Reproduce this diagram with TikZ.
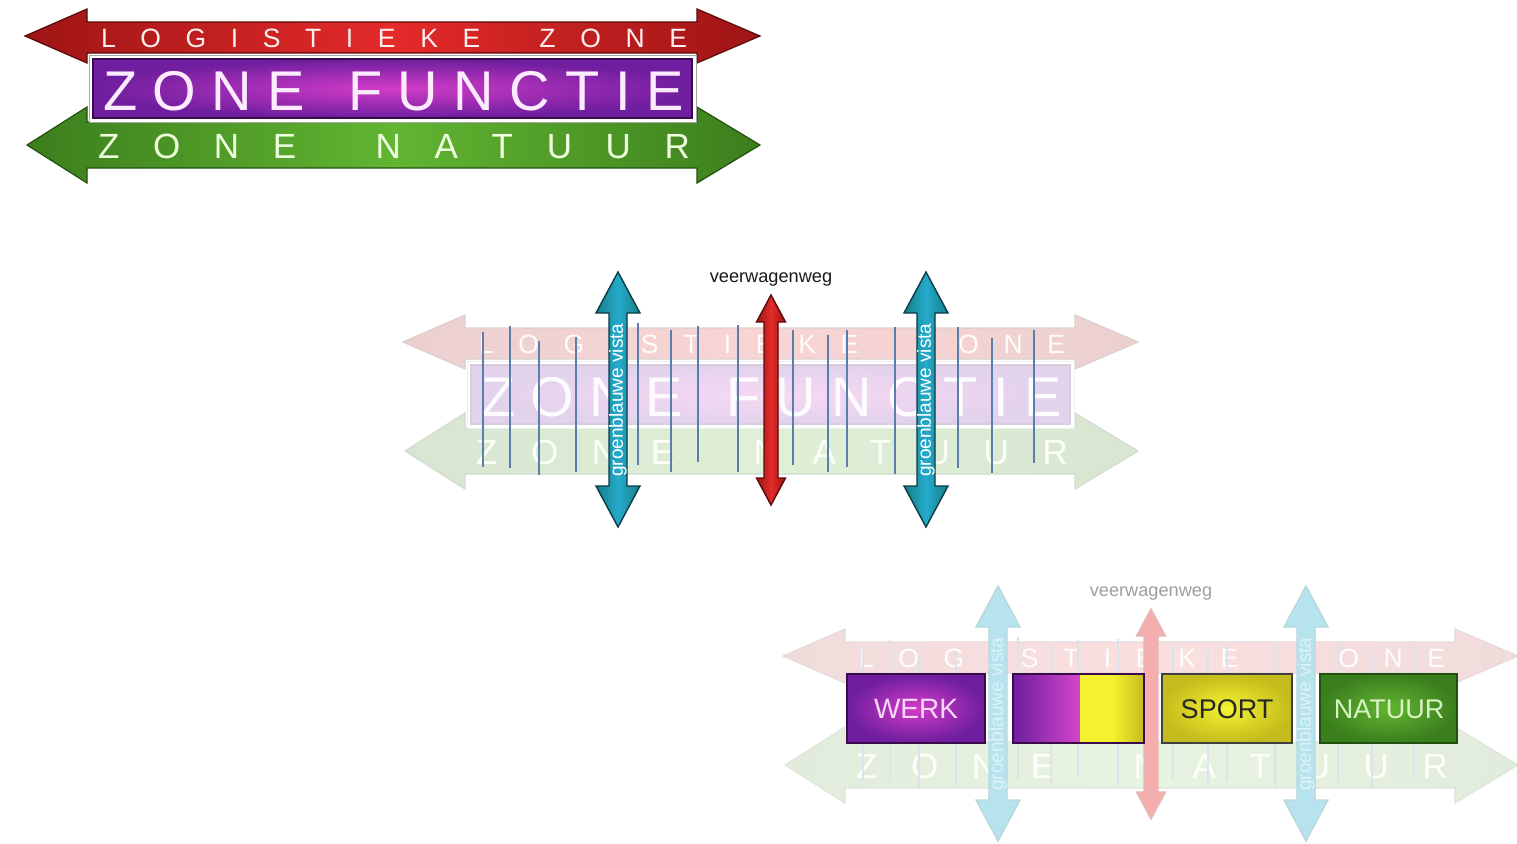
\documentclass[tikz,border=0pt]{standalone}
\usepackage{fontspec}
\setmainfont{Liberation Sans}
\definecolor{rDark}{HTML}{9E1515}
\definecolor{rLight}{HTML}{E42A2A}
\definecolor{rLine}{HTML}{5A0A0A}
\definecolor{gDark}{HTML}{3B7E1D}
\definecolor{gLight}{HTML}{62B532}
\definecolor{gLine}{HTML}{24500F}
\definecolor{pOut}{HTML}{6E1E9E}
\definecolor{pIn}{HTML}{D23CC8}
\definecolor{pLine}{HTML}{3A0A4A}
\definecolor{tDark}{HTML}{177E86}
\definecolor{tLight}{HTML}{25AACB}
\definecolor{tLine}{HTML}{0B3B45}
\definecolor{yIn}{HTML}{F4F230}
\definecolor{yOut}{HTML}{C4BC1C}
\definecolor{vline}{HTML}{5A7FAA}
\definecolor{txR}{HTML}{FFEEEE}
\definecolor{txP}{HTML}{FCEAFF}
\definecolor{txG}{HTML}{EEFFDD}
\newcommand\fs[1]{\fontsize{#1pt}{#1pt}\selectfont}
\newif\ifmidrow
\midrowtrue
% banner: #1 = strength in percent, #2 = name prefix
\newcommand\drawbanner[2]{%
 \colorlet{bRD}{rDark!#1!white}\colorlet{bRL}{rLight!#1!white}\colorlet{bRO}{rLine!#1!white}%
 \colorlet{bGD}{gDark!#1!white}\colorlet{bGL}{gLight!#1!white}\colorlet{bGO}{gLine!#1!white}%
 \colorlet{bPI}{pIn!#1!white}\colorlet{bPO}{pOut!#1!white}\colorlet{bPL}{pLine!#1!white}%
 \colorlet{bWO}{black!#1!white}%
 \colorlet{bT1}{txR!#1!white}\colorlet{bT2}{txP!#1!white}\colorlet{bT3}{txG!#1!white}%
 \path[draw=bRO, line width=0.6pt, left color=bRD, right color=bRD, middle color=bRL]
   (25,36) -- (87,9) -- (87,22) -- (697,22) -- (697,9) -- (760,36) -- (697,63) -- (697,53)
   -- (87,53) -- (87,63) -- cycle;
 \path[draw=bGO, line width=0.6pt, left color=bGD, right color=bGD, middle color=bGL]
   (27,145) -- (87,107) -- (87,122) -- (697,122) -- (697,107) -- (760,145) -- (697,183)
   -- (697,168) -- (87,168) -- (87,183) -- cycle;
 \node[anchor=base, inner sep=0pt, text=bT1, font=\fs{13.25}] (#2l1) at (394,47)
   {\makebox[293pt][s]{L\hfill O\hfill G\hfill I\hfill S\hfill T\hfill I\hfill E\hfill K\hfill E\hfill\hspace{5pt}\hfill Z\hfill O\hfill N\hfill E}};
 \node[anchor=base, inner sep=0pt, text=bT3, font=\fs{17.5}] (#2l3) at (394,158)
   {\makebox[296pt][s]{Z\hfill O\hfill N\hfill E\hfill\hspace{6pt}\hfill N\hfill A\hfill T\hfill U\hfill U\hfill R}};
 \ifmidrow
 \path[draw=bWO!35, line width=0.5pt, fill=white] (89,55) rectangle (696,122);
 \path[draw=bPL, line width=0.6pt, inner color=bPI, outer color=bPO] (93,59) rectangle (692,118);
 \node[anchor=base, inner sep=0pt, text=bT2, font=\fs{28}] (#2l2) at (393.5,110)
   {\makebox[290.5pt][s]{Z\hfill O\hfill N\hfill E\hfill\hspace{6pt}\hfill F\hfill U\hfill N\hfill C\hfill T\hfill I\hfill E}};
 \fi
}
% vertical double arrow: x, ytop, ybot, head length, head half width, shaft half width, style
\newcommand\vdarrow[7]{%
 \path[#7] (#1,#2) -- ({#1+#5},{#2+#4}) -- ({#1+#6},{#2+#4}) -- ({#1+#6},{#3-#4})
   -- ({#1+#5},{#3-#4}) -- (#1,#3) -- ({#1-#5},{#3-#4}) -- ({#1-#6},{#3-#4})
   -- ({#1-#6},{#2+#4}) -- ({#1-#5},{#2+#4}) -- cycle;}
% stage: #1 banner strength, #2 prefix, #3 line colour, #4 teal style, #5 red style, #6 label colour, #7 vista text colour
\newcommand\stage[7]{%
 \begin{scope}[shift={(378,306)}]\drawbanner{#1}{#2}\end{scope}
 \foreach \xx/\ya/\yb in {483/332/467, 510/326/468, 539/341/475, 576/337/472, 638/323/465,
   671/330/472, 698/326/462, 738/325/472, 793/330/465, 828/335/472, 847/330/467,
   895/327/474, 958/327/468, 992/338/473, 1034/330/463}
   \draw[line width=1pt, #3] (\xx,\ya) -- (\xx,\yb);
 \vdarrow{618}{272}{527}{41}{22}{9}{#4}
 \vdarrow{926}{272}{527}{41}{22}{9}{#4}
 \vdarrow{771}{295}{505}{27}{14.5}{7}{#5}
 \node[rotate=90, inner sep=0pt, text=#7, font=\fs{9.5}] (#2gv1) at (618,400) {groenblauwe vista};
 \node[rotate=90, inner sep=0pt, text=#7, font=\fs{9.5}] (#2gv2) at (926,400) {groenblauwe vista};
 \node[inner sep=0pt, text=#6, font=\fs{9.1}] (#2vw) at (771,279) {veerwagenweg};
}
\begin{document}
\begin{tikzpicture}[x=0.5pt, y=-0.5pt]
\fill[white] (0,0) rectangle (1517,843);
\useasboundingbox (0,0) rectangle (1517,843);
% top banner
\drawbanner{100}{top}
% middle stage
\stage{20}{mid}{draw=vline}
  {draw=tLine, line width=0.7pt, left color=tDark, right color=tDark, middle color=tLight}
  {draw=rLine, line width=0.7pt, left color=rDark, right color=rDark, middle color=rLight}
  {black!90}{white}
% bottom stage (the function row is replaced by the boxes)
\midrowfalse
\begin{scope}[shift={(380,314)}]
\stage{15}{bot}{draw=vline!22!white}
  {draw=tDark!30!white, line width=0.7pt, fill=tLight!33!white}
  {draw=rDark!30!white, line width=0.7pt, fill=rLight!38!white}
  {black!38}{white!85!tLight}
\end{scope}
% function boxes
\path[draw=pLine, line width=0.7pt, inner color=pIn, outer color=pOut] (847,674) rectangle (985,743);
\node[anchor=base, inner sep=0pt, text=txP!90!pIn, font=\fs{14}] (werk) at (916,718) {WERK};
\path[left color=pOut, right color=pIn!95!white] (1013,674) rectangle (1080,743);
\path[left color=yIn, right color=yOut, middle color=yIn] (1080,674) rectangle (1144,743);
\draw[pLine, line width=0.7pt] (1013,674) rectangle (1144,743);
\coordinate (mix) at (1078,708);
\path[draw=black!75, line width=0.7pt, inner color=yIn, outer color=yOut] (1162,674) rectangle (1292,743);
\node[anchor=base, inner sep=0pt, text=black!85, font=\fs{13.5}] (sport) at (1227,718) {SPORT};
\path[draw=gLine, line width=0.7pt, inner color=gLight, outer color=gDark] (1320,674) rectangle (1457,743);
\node[anchor=base, inner sep=0pt, text=txG!85!gLight, font=\fs{13.5}] (natuur) at (1389,718) {NATUUR};
\end{tikzpicture}
\end{document}
